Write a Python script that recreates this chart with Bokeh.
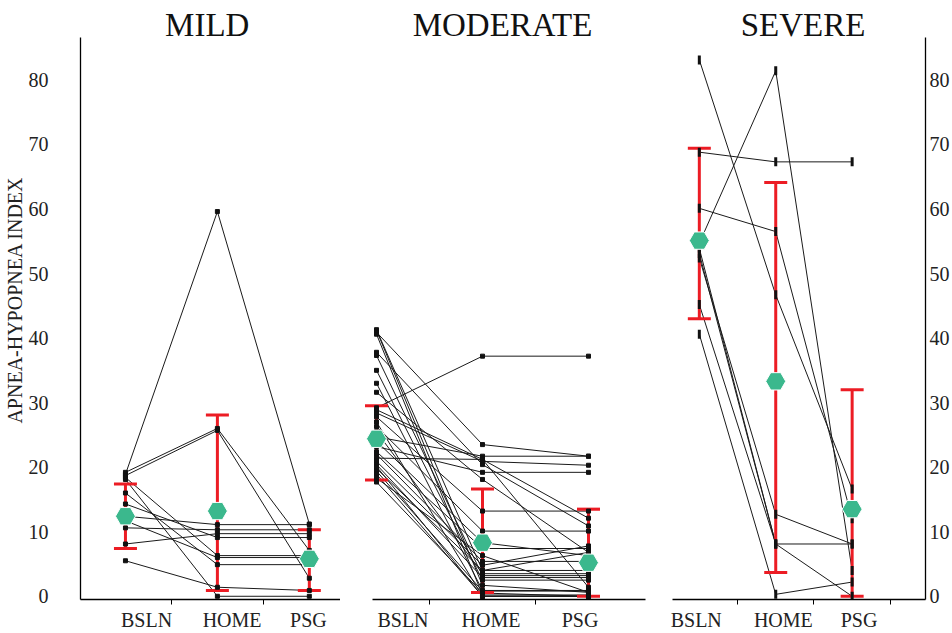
from bokeh.plotting import figure
from bokeh.models import Range1d, FixedTicker, Label
from bokeh.layouts import row
from bokeh.embed import file_html
from bokeh.resources import INLINE

NaN = float("nan")

categories = ["BSLN", "HOME", "PSG"]
panel_titles = ["MILD", "MODERATE", "SEVERE"]
y_ticks = [0, 10, 20, 30, 40, 50, 60, 70, 80]
y_axis_title = "APNEA-HYPOPNEA INDEX"

# ---- MILD: one entry per subject ----
mild_bsln = [18.9, 19.2, 18.7, 18.4, 18.1, 16.0, 14.3, 12.4, 11.7, 10.6, 8.1, 5.5]
mild_home = [59.6, 26.0, 25.7, 6.3, 0.0, 4.9, 9.1, 11.1, 6.0, 10.3, 9.7, 1.4]
mild_psg = [11.2, 7.1, 2.8, 6.3, 0.0, 4.9, 9.1, 11.1, 6.0, 10.3, 9.7, 0.9]
mild_mean = [12.4, 13.2, 5.8]
mild_low = [7.4, 0.9, 0.9]
mild_high = [17.4, 28.1, 10.3]

# ---- MODERATE ----
mod_bsln = [41.3, 41.2, 40.9, 40.6, 37.8, 37.3, 35.0, 33.0, 31.6, 29.2, 28.9, 28.4, 27.8, 27.0, 26.3,
            25.5, 24.7, 24.0, 23.2, 22.4, 22.0, 21.4, 20.9, 20.4, 19.8, 19.4, 18.9, 18.3, 17.7, 20.1]
mod_home = [4.0, 1.7, 23.5, 0.2, 20.4, 3.2, 2.5, 0.9, 18.1, 37.2, 21.2, 20.9, 13.2, 0.0, 10.1,
            3.5, 21.7, 8.3, 19.2, 7.4, 5.4, 21.2, 4.8, 2.9, 4.0, 0.8, 0.0, 6.3, 0.5, 0.0]
mod_psg = [4.0, 0.6, 21.7, 0.2, 10.9, 3.2, 2.5, 0.9, 6.8, 37.2, 12.1, 20.3, 13.2, 0.0, 10.1,
           3.5, 21.7, 6.3, 19.2, 7.4, 5.4, 1.4, 7.8, 2.9, 6.8, 0.8, 0.0, 0.6, 0.0, 0.0]
mod_mean = [24.4, 8.3, 5.2]
mod_low = [18.0, 0.6, 0.0]
mod_high = [29.5, 16.6, 13.5]

# ---- SEVERE ----
sev_bsln = [83.1, 68.8, 60.1, 54.7, 53.9, 52.4, 53.1, 45.2, 40.6]
sev_home = [46.7, 67.3, 56.5, 81.4, 8.1, 12.7, 8.1, 8.1, 0.3]
sev_psg = [16.6, 67.3, 12.0, 4.0, 8.1, 8.1, 0.0, NaN, 2.2]
sev_mean = [55.1, 33.3, 13.5]
sev_low = [43.0, 3.7, 0.0]
sev_high = [69.4, 64.1, 32.0]

SERIF = "Liberation Serif"
RED = "#ec1c24"
GREEN = "#3bb88d"
CAT_X = [1, 2, 3]


def make_panel(title, bsln, home, psg, mean, low, high, width, x_range, border_left,
               title_x, label_pos, minor, x_bounds, yaxis_side, marker_kind):
    p = figure(width=width, height=633, x_range=Range1d(*x_range), y_range=Range1d(-0.5, 92.3),
               output_backend="svg", toolbar_location=None,
               y_axis_location=yaxis_side, min_border_left=border_left,
               min_border_right=0, min_border_top=0, min_border_bottom=0)
    p.outline_line_color = None
    p.grid.visible = False
    p.background_fill_color = "white"
    p.border_fill_color = "white"
    p.title.visible = False

    # x axis
    xa = p.xaxis[0]
    xa.ticker = FixedTicker(ticks=label_pos, minor_ticks=minor)
    xa.major_label_overrides = {lp: c for lp, c in zip(label_pos, categories)}
    xa.major_tick_line_color = None
    xa.major_tick_out = 0
    xa.major_tick_in = 0
    xa.minor_tick_line_color = "black"
    xa.minor_tick_out = 5
    xa.minor_tick_in = 0
    xa.axis_line_color = "black"
    xa.axis_line_width = 1.3
    xa.major_label_standoff = 4
    xa.major_label_text_font = SERIF
    xa.major_label_text_font_size = "20px"
    xa.major_label_text_color = "#222222"
    if x_bounds is not None:
        xa.bounds = x_bounds

    if yaxis_side is not None:
        ya = p.yaxis[0]
        ya.ticker = FixedTicker(ticks=y_ticks, minor_ticks=[])
        ya.major_tick_line_color = None
        ya.major_tick_out = 0
        ya.major_tick_in = 0
        ya.axis_line_color = "black"
        ya.axis_line_width = 1.3
        ya.bounds = (-0.5, 86.5)
        ya.major_label_text_font = SERIF
        ya.major_label_text_font_size = "20px"
        ya.major_label_text_color = "#222222"
        if yaxis_side == "left":
            ya.major_label_standoff = 32
            ya.axis_label = y_axis_title
            ya.axis_label_text_font = SERIF
            ya.axis_label_text_font_style = "normal"
            ya.axis_label_text_font_size = "20px"
            ya.axis_label_text_color = "#222222"
            ya.axis_label_standoff = 0
        else:
            ya.major_label_standoff = 4

    # subject lines
    xs, ys = [], []
    px, py = [], []
    for b, h, s in zip(bsln, home, psg):
        xs.append(CAT_X)
        ys.append([b, h, s])
        for xv, yv in zip(CAT_X, [b, h, s]):
            if yv == yv:
                px.append(xv)
                py.append(yv)
    p.multi_line(xs=xs, ys=ys, line_color="#1a1a1a", line_width=1)

    # mean +/- SD bars
    p.segment(x0=CAT_X, y0=low, x1=CAT_X, y1=high, line_color=RED, line_width=3)
    p.scatter(x=CAT_X + CAT_X, y=low + high, marker="dash", size=23, line_color=RED, line_width=3)

    # individual points
    if marker_kind == "bar":
        p.scatter(x=px, y=py, marker="dash", angle=1.5708, size=9, line_color="#111111", line_width=3)
    else:
        p.scatter(x=px, y=py, marker="square", size=4, fill_color="#111111", line_color="#111111")

    # means
    p.scatter(x=CAT_X, y=mean, marker="hex", size=20, fill_color=GREEN, line_color="white", line_width=1)

    p.add_layout(Label(x=title_x, y=88.5, text=title, text_font=SERIF, text_font_size="33px",
                       text_align="center", text_baseline="middle", text_color="#111111"))
    return p


p1 = make_panel(panel_titles[0], mild_bsln, mild_home, mild_psg, mild_mean, mild_low, mild_high,
                width=340, x_range=(0.511, 3.339), border_left=77, title_x=1.89,
                label_pos=[1.23, 2.16, 2.99], minor=[1.5, 2.5], x_bounds=None,
                yaxis_side="left", marker_kind="square")
p2 = make_panel(panel_titles[1], mod_bsln, mod_home, mod_psg, mod_mean, mod_low, mod_high,
                width=310, x_range=(0.849, 3.585), border_left=20, title_x=2.189,
                label_pos=[1.25, 2.08, 2.92], minor=[1.5, 2.5], x_bounds=(0.962, 3.54),
                yaxis_side=None, marker_kind="square")
p3 = make_panel(panel_titles[2], sev_bsln, sev_home, sev_psg, sev_mean, sev_low, sev_high,
                width=302, x_range=(0.649, 3.96), border_left=22, title_x=2.357,
                label_pos=[0.96, 2.10, 3.09], minor=[1.5, 2.5, 3.5], x_bounds=None,
                yaxis_side="right", marker_kind="bar")

layout = row(p1, p2, p3)
open("out.html", "w").write(file_html(layout, INLINE))
